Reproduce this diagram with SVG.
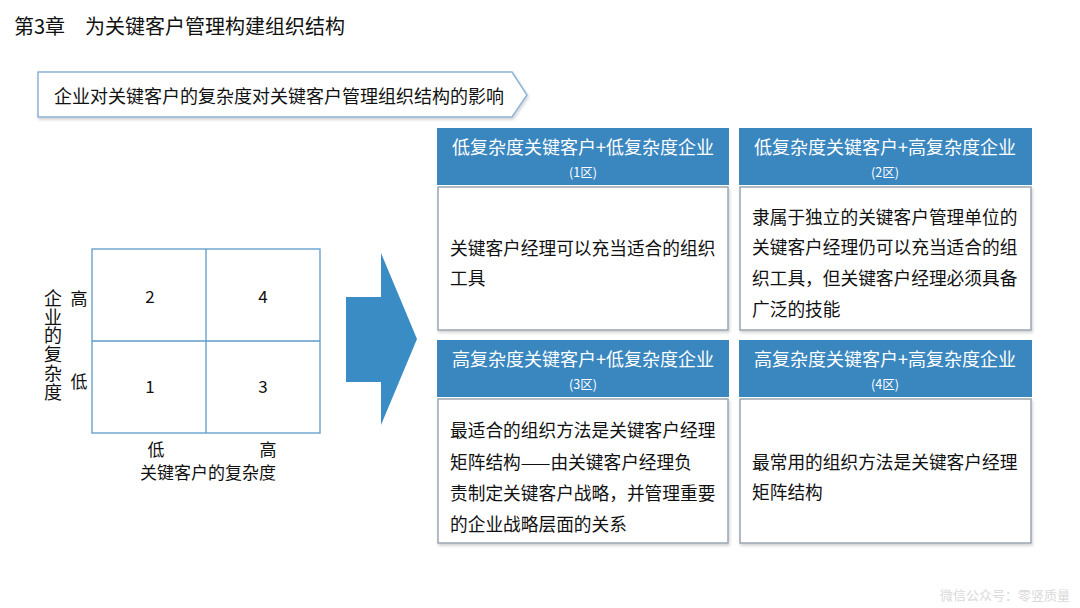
<svg xmlns="http://www.w3.org/2000/svg" width="1080" height="608" viewBox="0 0 1080 608">
<defs>
<style>
text{font-family:"Noto Sans CJK SC","Noto Sans",sans-serif;fill:#111}
.hd{fill:#3a87c0}
.hdt{fill:#fff;font-size:18px;text-anchor:middle}
.hds{fill:#fff;font-size:12.5px;text-anchor:middle}
.body{fill:#fff;stroke:#9aa6b2;stroke-width:1.5}
.bt{font-size:17.7px}
.mx{fill:none;stroke:#5b9bc9;stroke-width:1.3}
.lb{font-size:17px;text-anchor:middle}
</style>
<filter id="sh" x="-5%" y="-5%" width="110%" height="115%">
<feDropShadow dx="1" dy="2" stdDeviation="1.5" flood-color="#000" flood-opacity="0.18"/>
</filter>
</defs>
<rect width="1080" height="608" fill="#fff"/>
<text id="title" x="14" y="34" style="font-size:20px">第3章　为关键客户管理构建组织结构</text>
<g id="banner">
<path d="M38,72 H512 L527,95 L512,117 H38 Z" fill="#fff" stroke="#8db3d6" stroke-width="1.5" filter="url(#sh)"/>
<text x="54" y="103" style="font-size:18px">企业对关键客户的复杂度对关键客户管理组织结构的影响</text>
</g>
<g id="matrix">
<rect class="mx" x="92" y="249" width="228" height="184"/>
<line class="mx" x1="206" y1="249" x2="206" y2="433"/>
<line class="mx" x1="92" y1="341" x2="320" y2="341"/>
<text class="lb" x="150" y="303">2</text>
<text class="lb" x="263" y="303">4</text>
<text class="lb" x="150" y="393">1</text>
<text class="lb" x="263" y="393">3</text>
<text class="lb" x="79" y="305">高</text>
<text class="lb" x="79" y="388">低</text>
<text class="lb" x="156" y="456">低</text>
<text class="lb" x="268" y="456">高</text>
<text class="lb" x="208" y="479">关键客户的复杂度</text>
<text x="53" y="289" style="font-size:18px;writing-mode:vertical-rl;letter-spacing:0.8px">企业的复杂度</text>
</g>
<g id="arrow">
<polygon points="346,297 381,297 381,253 417,339 381,425 381,382 346,382" fill="#3a8cc4"/>
</g>
<g id="box1">
<rect class="hd" x="437" y="128" width="292" height="57"/>
<text class="hdt" x="583" y="154">低复杂度关键客户+低复杂度企业</text>
<text class="hds" x="583" y="177">(1区)</text>
<rect class="body" x="438" y="187" width="290" height="143" filter="url(#sh)"/>
<text class="bt" x="450" y="255">关键客户经理可以充当适合的组织</text>
<text class="bt" x="450" y="285">工具</text>
</g>
<g id="box2">
<rect class="hd" x="739" y="128" width="293" height="57"/>
<text class="hdt" x="885" y="154">低复杂度关键客户+高复杂度企业</text>
<text class="hds" x="885" y="177">(2区)</text>
<rect class="body" x="740" y="187" width="291" height="143" filter="url(#sh)"/>
<text class="bt" x="752" y="224">隶属于独立的关键客户管理单位的</text>
<text class="bt" x="752" y="254">关键客户经理仍可以充当适合的组</text>
<text class="bt" x="752" y="285">织工具，但关键客户经理必须具备</text>
<text class="bt" x="752" y="316">广泛的技能</text>
</g>
<g id="box3">
<rect class="hd" x="437" y="340" width="292" height="57"/>
<text class="hdt" x="583" y="366">高复杂度关键客户+低复杂度企业</text>
<text class="hds" x="583" y="389">(3区)</text>
<rect class="body" x="438" y="399" width="290" height="144" filter="url(#sh)"/>
<text class="bt" x="450" y="437">最适合的组织方法是关键客户经理</text>
<text class="bt" x="450" y="469">矩阵结构——由关键客户经理负</text>
<text class="bt" x="450" y="500">责制定关键客户战略，并管理重要</text>
<text class="bt" x="450" y="531">的企业战略层面的关系</text>
</g>
<g id="box4">
<rect class="hd" x="739" y="340" width="293" height="57"/>
<text class="hdt" x="885" y="366">高复杂度关键客户+高复杂度企业</text>
<text class="hds" x="885" y="389">(4区)</text>
<rect class="body" x="740" y="399" width="291" height="144" filter="url(#sh)"/>
<text class="bt" x="752" y="469">最常用的组织方法是关键客户经理</text>
<text class="bt" x="752" y="499">矩阵结构</text>
</g>
<g id="connectors"></g>
<text id="watermark" x="1070" y="600" style="font-size:13px;fill:#dadada;text-anchor:end">微信公众号：零竖质量</text>
</svg>
